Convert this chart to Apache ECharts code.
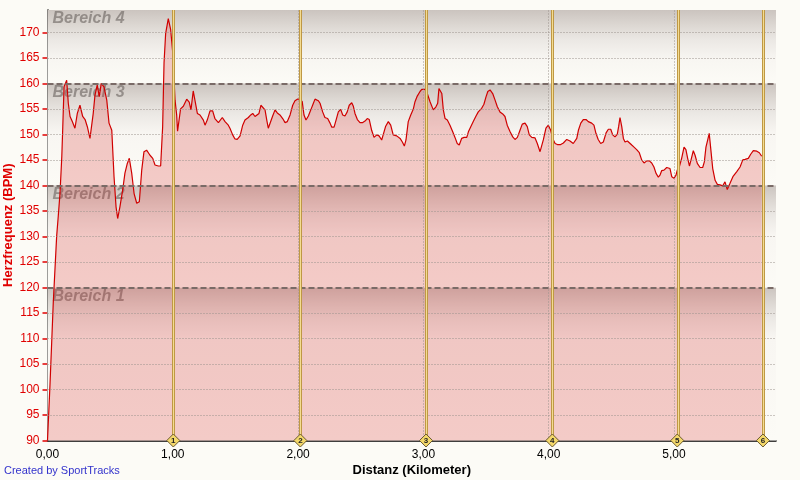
<!DOCTYPE html>
<html><head><meta charset="utf-8">
<script src="https://cdn.jsdelivr.net/npm/echarts@6/dist/echarts.min.js"></script>
<style>html,body{margin:0;padding:0;background:#fcfbf6}#c{width:800px;height:480px}</style>
</head><body><div id="c"></div>
<script>
// ---- data ----
const distKm = [0,0.020,0.046,0.073,0.086,0.100,0.114,0.122,0.132,0.153,0.166,0.180,0.198,0.219,0.238,0.259,0.281,0.300,0.318,0.339,0.353,0.365,0.379,0.397,0.413,0.429,0.451,0.473,0.491,0.513,0.531,0.547,0.560,0.578,0.600,0.618,0.637,0.653,0.672,0.691,0.712,0.733,0.752,0.770,0.791,0.818,0.840,0.858,0.884,0.903,0.919,0.930,0.943,0.964,0.983,1.000,1.018,1.031,1.038,1.062,1.084,1.111,1.131,1.145,1.163,1.178,1.196,1.217,1.231,1.244,1.257,1.275,1.297,1.318,1.336,1.364,1.377,1.395,1.417,1.443,1.456,1.478,1.496,1.514,1.537,1.558,1.576,1.603,1.622,1.638,1.656,1.669,1.688,1.703,1.718,1.736,1.750,1.762,1.776,1.797,1.816,1.834,1.855,1.877,1.896,1.914,1.936,1.957,1.975,1.994,2.015,2.033,2.047,2.063,2.082,2.103,2.122,2.135,2.161,2.175,2.196,2.214,2.236,2.255,2.269,2.287,2.303,2.321,2.340,2.356,2.374,2.392,2.408,2.428,2.441,2.454,2.473,2.494,2.516,2.534,2.552,2.568,2.587,2.606,2.628,2.646,2.667,2.680,2.699,2.720,2.739,2.759,2.787,2.814,2.832,2.848,2.861,2.879,2.899,2.919,2.933,2.951,2.973,2.987,3.013,3.031,3.053,3.079,3.100,3.114,3.124,3.138,3.147,3.159,3.173,3.191,3.212,3.234,3.252,3.270,3.286,3.305,3.325,3.346,3.359,3.378,3.398,3.420,3.438,3.465,3.483,3.499,3.514,3.532,3.553,3.572,3.590,3.611,3.633,3.651,3.669,3.692,3.713,3.731,3.750,3.771,3.789,3.811,3.829,3.845,3.865,3.891,3.909,3.931,3.944,3.957,3.978,3.997,4.016,4.032,4.051,4.069,4.096,4.117,4.144,4.170,4.196,4.224,4.237,4.256,4.276,4.298,4.316,4.343,4.361,4.377,4.395,4.415,4.436,4.458,4.476,4.495,4.511,4.529,4.547,4.558,4.569,4.583,4.596,4.609,4.628,4.643,4.663,4.681,4.702,4.723,4.742,4.761,4.783,4.803,4.822,4.840,4.856,4.875,4.888,4.902,4.920,4.942,4.955,4.968,4.982,5.000,5.016,5.026,5.042,5.061,5.080,5.095,5.109,5.123,5.136,5.154,5.168,5.186,5.208,5.229,5.242,5.255,5.269,5.281,5.292,5.309,5.328,5.346,5.367,5.389,5.407,5.425,5.447,5.470,5.501,5.527,5.549,5.567,5.593,5.612,5.633,5.661,5.681,5.700];
const heartRate = [90,101,117,130,134,138.5,145.6,151.5,159.3,160.6,156.1,153.5,152.5,151.2,154.1,155.7,153.5,152.9,151.5,149.2,148.9,154.1,157.7,159.7,157.4,160,159.3,156.7,152.2,150.8,141.7,135.8,133.5,135.8,139.1,142.4,144.3,145.3,142.4,138.4,136.5,136.8,143,146.6,146.9,145.9,145.3,144,143.8,143.8,151.5,164,169.8,172.7,170.5,165.9,156.7,153.8,150.6,155,155.5,156.9,156.3,154.8,158.5,156.5,154.1,153.8,154,152.8,151.8,152.8,154.6,154.6,153.1,152.3,152.6,153.3,152.5,151.8,151.2,149.9,149.1,149,149.7,151.8,152.8,153.3,153.8,154.1,153.5,153.5,154.1,155.7,155.9,154.8,152.8,151.2,151.5,153.6,154.8,154.2,153.8,153.1,152.3,152.5,153.8,155.7,156.6,156.9,156.9,156.4,153.8,152.8,153.6,154.9,156.1,156.9,156.6,156.1,154.4,153.3,153.1,152.2,151.4,151.4,152.8,154.4,154.9,153.8,153.6,154.4,155.7,156.2,155.5,154.1,152.9,152.3,152.3,152.6,153.1,152.9,150.8,149.4,149.9,149.7,148.9,149.2,151.6,152.5,151.8,149.9,149.7,149.2,148.5,147.7,148.9,152.5,153.8,154.9,156.4,157.5,158.4,158.8,158.8,158,156.4,154.8,155.4,156.1,159,159.3,158,154.8,153.1,152.8,151.8,150.5,149.4,148.2,147.9,149.2,149.4,149.4,150.5,151.5,152.5,153.6,154.4,155.1,155.9,157.3,158.4,158.7,158,156.7,155.4,154.4,154,153.5,151.8,150.5,149.5,149,149.4,150.8,152,152.2,151.5,149.9,149.4,149.3,148.2,146.6,146.9,148.9,151.2,151.8,150.8,149.2,148.2,148,148,148.3,149,148.7,148.2,149.2,150.8,152.2,152.9,152.9,152.5,152.2,151.8,150.2,149,148.2,148.5,150.3,151,151,149.9,149.5,150,151.5,153.3,151.5,149.2,148.5,148.7,148.5,147.9,147.5,147,146.4,145,144.4,144.8,144.8,144.4,143.6,142.4,141.6,142,142.9,143,143.5,143.8,143.3,141.7,141.4,142,143,143.6,145.3,147.5,147,145.3,143.8,145,146.8,145.9,144.3,143.5,143.5,144.6,147.5,148.9,150.2,147.5,143.3,141,140.2,140.1,139.9,140.7,139.2,140.4,141.7,142.7,143.6,145,145.1,145.3,146.1,146.8,146.7,146.4,145.7];
const lapDist = [1.004, 2.018, 3.021, 4.029, 5.026, 5.710];
const lapLabels = ['1','2','3','4','5','6'];
const yTicks = [90,95,100,105,110,115,120,125,130,135,140,145,150,155,160,165,170];
const xTicks = [0,1,2,3,4,5];
const zoneNames = ['Bereich 1','Bereich 2','Bereich 3','Bereich 4'];
const zoneLimits = [90,120,140,160,174.37];
const yMin = 90, yMax = 174.37, xMax = 5.814;

// ---- styles ----
const zoneFade = [0.33, 0.49, 0.49, 0.68];
function zoneGrad(f){
  return new echarts.graphic.LinearGradient(0,0,0,1,[
    {offset:0, color:'#cbc4bf'},
    {offset:f*0.3, color:'#dcd7d2'},
    {offset:f*0.6, color:'#ebe8e4'},
    {offset:f, color:'#f8f6f2'},
    {offset:1, color:'#fcfbf6'}
  ]);
}
const seriesData = distKm.map((d,i)=>[d, heartRate[i]]);
const zoneAreas = zoneNames.map((n,i)=>[
  {name:n, yAxis: zoneLimits[i], itemStyle:{color: zoneGrad(zoneFade[i])}},
  {yAxis: zoneLimits[i+1]}
]);
const noLine = {symbol:['none','none'], silent:true, animation:false, label:{show:false}};

const chart = echarts.init(document.getElementById('c'), null, {renderer:'canvas'});
chart.setOption({
  backgroundColor:'#fcfbf6',
  animation:false,
  grid:{left:47.5, right:24, top:10, bottom:39.5, containLabel:false, outerBoundsMode:'none'},
  xAxis:{
    type:'value', min:0, max:xMax, interval:1,
    axisLine:{show:true, onZero:false, lineStyle:{color:'#000', width:1.5}},
    axisTick:{show:false},
    splitLine:{show:false},
    axisLabel:{customValues:xTicks, color:'#000', fontSize:12, fontFamily:'Liberation Sans, Arial', margin:8,
      formatter:v=>v.toFixed(2).replace('.',',')},
    name:'Distanz (Kilometer)', nameLocation:'middle', nameGap:23, nameMoveOverlap:false,
    nameTextStyle:{color:'#000', fontSize:13, fontWeight:'bold', fontFamily:'Liberation Sans, Arial'}
  },
  yAxis:{
    type:'value', min:yMin, max:yMax, interval:5,
    axisLine:{show:true, onZero:false, lineStyle:{color:'#000', width:1.5}},
    axisTick:{show:true, customValues:yTicks, length:5, lineStyle:{color:'#e00000', width:1.5}},
    splitLine:{show:false},
    axisLabel:{customValues:yTicks, color:'#e00000', fontSize:12, fontFamily:'Liberation Sans, Arial', margin:8},
    name:'Herzfrequenz (BPM)', nameLocation:'middle', nameGap:33, nameMoveOverlap:false,
    nameTextStyle:{color:'#e00000', fontSize:13, fontWeight:'bold', fontFamily:'Liberation Sans, Arial'}
  },
  graphic:[{type:'text', left:4, top:465, style:{text:'Created by SportTracks', fill:'#3333cc', font:'11px "Liberation Sans", Arial'}}],
  series:[
    {type:'line', data:[], z:1,
      markArea:{silent:true, animation:false, data:zoneAreas,
        label:{show:true, position:[5,1], color:'rgba(95,88,84,0.55)', fontSize:16, fontWeight:'bold', fontStyle:'italic', fontFamily:'Liberation Sans, Arial'}}},
    {type:'line', data:seriesData, z:2, showSymbol:false, symbol:'none', smooth:false,
      lineStyle:{color:'#d00000', width:1.2},
      areaStyle:{color:'rgba(215,45,45,0.33)', origin:'start'}},
    {type:'line', data:[], z:3,
      markLine:Object.assign({}, noLine, {
        lineStyle:{type:[1,2], color:'#9a928d', width:1},
        data: yTicks.filter(v=>zoneLimits.indexOf(v)<0).map(v=>({yAxis:v})).concat(xTicks.filter(v=>v>0).map(v=>({xAxis:v})))
      })},
    {type:'line', data:[], z:4,
      markLine:Object.assign({}, noLine, {
        lineStyle:{type:[6,3], color:'#7a6b67', width:2},
        data: zoneLimits.slice(1,4).map(v=>({yAxis:v}))
      })},
    {type:'line', data:[], z:5,
      markLine:Object.assign({}, noLine, {
        lineStyle:{type:'solid', color:'#bf9844', width:3},
        data: lapDist.map(v=>({xAxis:v}))
      })},
    {type:'line', data:[], z:6,
      markLine:Object.assign({}, noLine, {
        lineStyle:{type:'solid', color:'#f3dc92', width:1},
        data: lapDist.map(v=>({xAxis:v}))
      }),
      markPoint:{silent:true, animation:false, symbol:'diamond', symbolSize:13,
        itemStyle:{color:'#f4d86a', borderColor:'#6b5a30', borderWidth:1},
        label:{show:true, formatter:'{b}', color:'#222', fontSize:8, fontWeight:'bold', fontFamily:'Liberation Sans, Arial'},
        data: lapDist.map((v,i)=>({name:lapLabels[i], coord:[v, yMin]}))}}
  ]
});
</script></body></html>
